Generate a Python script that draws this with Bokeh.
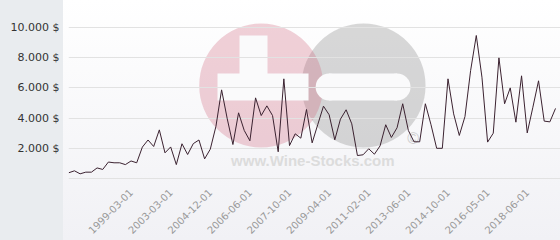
import math
from bokeh.plotting import figure
from bokeh.models import FixedTicker, Range1d
from bokeh.core.properties import value
from bokeh.embed import file_html
from bokeh.resources import INLINE

# ---- data ----
prices = [380, 510, 310, 420, 420, 700, 600, 1090, 1040, 1040,
          920, 1160, 1040, 2080, 2550, 2120, 3220, 1700, 2090, 920,
          2300, 1590, 2310, 2550, 1300, 1940, 3450, 5870, 3950, 2250,
          4350, 3180, 2500, 5340, 4170, 4810, 4170, 1770, 6600, 2180,
          2960, 2670, 4570, 2360, 3580, 4790, 4220, 2560, 3930, 4550,
          3620, 1520, 1570, 1970, 1610, 2160, 3560, 2720, 3360, 4950,
          3180, 2430, 2430, 4950, 3560, 2000, 2000, 6600, 4280, 2850,
          4100, 7150, 9470, 6710, 2410, 3000, 7990, 4950, 6000, 3730,
          6800, 3020, 4720, 6470, 3800, 3750, 4640]
xtick_index = [11, 18, 25, 32, 39, 46, 53, 60, 67, 74, 81]
xtick_labels = ["1999-03-01", "2003-03-01", "2004-12-01", "2006-06-01",
                "2007-10-01", "2009-04-01", "2011-02-01", "2013-06-01",
                "2014-10-01", "2016-05-01", "2018-06-01"]
ytick_values = [0, 2000, 4000, 6000, 8000, 10000]
ytick_labels = ["", "2.000 $", "4.000 $", "6.000 $", "8.000 $", "10.000 $"]

idx = list(range(len(prices)))

X0, X1 = -0.05, 86.88
Y0, Y1 = -265, 11788

p = figure(width=560, height=240, output_backend="svg", toolbar_location=None,
           x_range=Range1d(X0, X1), y_range=Range1d(Y0, Y1),
           min_border_left=68, min_border_right=0, min_border_top=0,
           min_border_bottom=58)
p.border_fill_color = None
p.background_fill_color = None
p.outline_line_color = None
p.styles = {
    "background": "linear-gradient(to right, #e9ecef 0px, #e9ecef 63px, "
                  "rgba(255,255,255,0) 63px), "
                  "linear-gradient(to bottom, #ffffff 0%, #f1f1f5 100%)"
}

# ---- watermark (decoration) ----
p.scatter([52.08], [6160], size=124, marker="circle", fill_color="#999999",
          fill_alpha=0.38, line_color=None, level="image")
p.scatter([34.0], [6160], size=124, marker="circle", fill_color="#d1667e",
          fill_alpha=0.3, line_color=None, level="image")
bar_col = "#fafafb"
p.rect([34.32], [6060], width=91, height=27, width_units="screen",
       height_units="screen", fill_color=bar_col, line_color=None, level="image")
p.rect([32.64], [7748], width=28, height=52, width_units="screen",
       height_units="screen", fill_color=bar_col, line_color=None, level="image")
p.rect([52.0], [6060], width=68, height=27, width_units="screen",
       height_units="screen", fill_color=bar_col, line_color=None, level="image")
p.scatter([46.0, 58.0], [6060, 6060], size=27, marker="circle",
          fill_color=bar_col, line_color=None, level="image")
p.text(x=[43.12], y=[1159], text=["www.Wine-Stocks.com"],
       text_font=value("Liberation Sans"), text_font_style="bold",
       text_font_size="15px", text_color="#dcdcdc", text_align="center",
       text_baseline="middle", level="image")
p.text(x=[60.86], y=[2649], text=["\u00a9"], text_font=value("Liberation Sans"),
       text_font_size="16px", text_color="#cccccc", text_align="center",
       text_baseline="middle", level="image")

# ---- data line ----
p.line(idx, prices, line_color="#3b2230", line_width=1)

# ---- axes ----
p.xaxis.ticker = FixedTicker(ticks=xtick_index)
p.xaxis.major_label_overrides = dict(zip(xtick_index, xtick_labels))
p.xaxis.major_label_orientation = math.pi / 4
p.xaxis.axis_line_color = None
p.xaxis.major_tick_line_color = None
p.xaxis.minor_tick_line_color = None
p.xaxis.major_tick_out = 0
p.xaxis.major_label_standoff = 8
p.xaxis.major_label_text_font = "DejaVu Sans"
p.xaxis.major_label_text_font_size = "10px"
p.xaxis.major_label_text_color = "#999999"
p.xgrid.grid_line_color = None

p.yaxis.ticker = FixedTicker(ticks=ytick_values)
p.yaxis.major_label_overrides = dict(zip(ytick_values, ytick_labels))
p.yaxis.axis_line_color = None
p.yaxis.major_tick_line_color = None
p.yaxis.minor_tick_line_color = None
p.yaxis.major_tick_out = 0
p.yaxis.major_label_standoff = 9
p.yaxis.major_label_text_font = "DejaVu Sans"
p.yaxis.major_label_text_font_size = "11px"
p.yaxis.major_label_text_color = "#333333"
p.ygrid.grid_line_color = "#e2e2e2"
p.ygrid.grid_line_width = 1

open("out.html", "w").write(file_html(p, INLINE))
